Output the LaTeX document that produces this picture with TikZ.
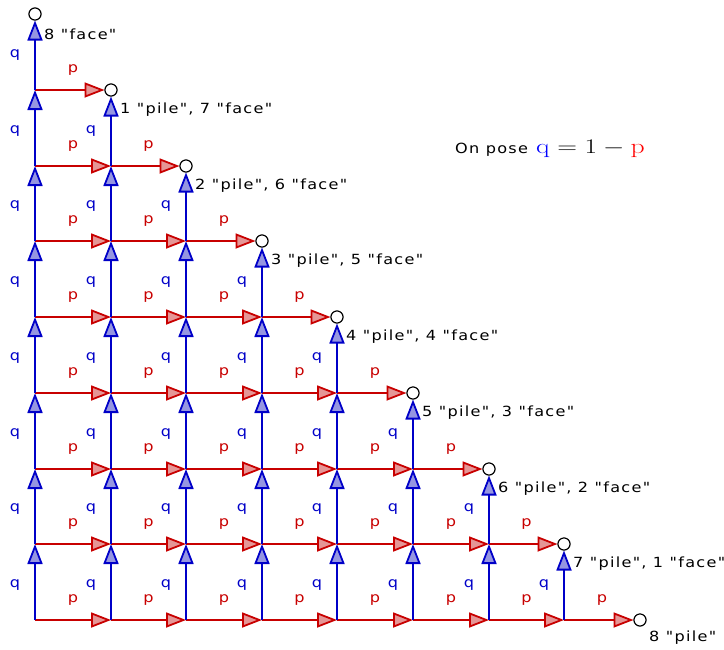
\documentclass[tikz,border=0pt]{standalone}
\usepackage{fontspec}
\usetikzlibrary{arrows.meta,calc}
\newfontfamily\lblfont[LetterSpace=8]{DejaVu Sans}
\newfontfamily\pqfont{DejaVu Sans}
\newcommand\stretchtxt[1]{\scalebox{1.15}[1]{#1}}
\definecolor{rline}{RGB}{200,0,0}
\definecolor{rfill}{RGB}{229,150,150}
\definecolor{bline}{RGB}{0,0,200}
\definecolor{bfill}{RGB}{150,150,225}
\begin{document}
\begin{tikzpicture}[x=1pt,y=-1pt,
  hedge/.style={draw=rline,line width=1.8pt,-{Triangle[length=20pt,width=15pt,fill=rfill]}},
  vedge/.style={draw=bline,line width=1.8pt,-{Triangle[length=20pt,width=15pt,fill=bfill]}},
  term/.style={circle,draw=black,fill=white,line width=1pt,minimum size=12pt,inner sep=0pt},
  plab/.style={text=rline,font=\fontsize{14}{16}\pqfont,inner sep=0pt},
  qlab/.style={text=bline,font=\fontsize{14}{16}\pqfont,inner sep=0pt},
  tlab/.style={text=black,font=\fontsize{14}{16}\lblfont,inner sep=0pt,anchor=west}
]
\useasboundingbox (0,0) rectangle (724,649);
% grid points
\foreach \i in {0,...,8}{
  \foreach \j in {0,...,8}{
    \pgfmathtruncatemacro\s{\i+\j}
    \pgfmathtruncatemacro\xx{round(35+\i*75.6)}
    \pgfmathtruncatemacro\yy{round(620-\j*75.75)}
    \ifnum\s<8
      \coordinate (g-\i-\j) at (\xx,\yy);
    \else\ifnum\s=8
      \node[term] (g-\i-\j) at (\xx,\yy) {};
    \fi\fi
  }
}
% edges
\foreach \i in {0,...,7}{
  \foreach \j in {0,...,7}{
    \pgfmathtruncatemacro\s{\i+\j}
    \pgfmathtruncatemacro\ip{\i+1}
    \pgfmathtruncatemacro\jp{\j+1}
    \ifnum\s<8
      \draw[hedge] (g-\i-\j) -- (g-\ip-\j);
      \draw[vedge] (g-\i-\j) -- (g-\i-\jp);
      \node[plab] (p-\i-\j) at ([yshift=20pt]$(g-\i-\j)!0.5!(g-\ip-\j.center)$) {\stretchtxt{p}};
      \node[qlab] (q-\i-\j) at ([xshift=-20pt,yshift=-3pt]$(g-\i-\j)!0.5!(g-\i-\jp.center)$) {\stretchtxt{q}};
    \fi
  }
}
% redraw terminal circles on top
\foreach \i in {0,...,8}{
  \pgfmathtruncatemacro\j{8-\i}
  \node[term] at (g-\i-\j.center) {};
}
% terminal labels
\node[tlab] (t0) at ([xshift=9pt,yshift=-20pt]g-0-8.center) {\stretchtxt{8 "face"}};
\node[tlab] (t1) at ([xshift=9pt,yshift=-20pt]g-1-7.center) {\stretchtxt{1 "pile", 7 "face"}};
\node[tlab] (t2) at ([xshift=9pt,yshift=-20pt]g-2-6.center) {\stretchtxt{2 "pile", 6 "face"}};
\node[tlab] (t3) at ([xshift=9pt,yshift=-20pt]g-3-5.center) {\stretchtxt{3 "pile", 5 "face"}};
\node[tlab] (t4) at ([xshift=9pt,yshift=-20pt]g-4-4.center) {\stretchtxt{4 "pile", 4 "face"}};
\node[tlab] (t5) at ([xshift=9pt,yshift=-20pt]g-5-3.center) {\stretchtxt{5 "pile", 3 "face"}};
\node[tlab] (t6) at ([xshift=9pt,yshift=-20pt]g-6-2.center) {\stretchtxt{6 "pile", 2 "face"}};
\node[tlab] (t7) at ([xshift=9pt,yshift=-20pt]g-7-1.center) {\stretchtxt{7 "pile", 1 "face"}};
\node[tlab] (t8) at ([xshift=9pt,yshift=-18pt]g-8-0.center) {\stretchtxt{8 "pile"}};
% formula
\node[anchor=base west,inner sep=0pt,font=\fontsize{14}{16}\lblfont] (pose) at (455,153)
  {\stretchtxt{On pose}};
\node[anchor=base west,inner sep=0pt,font=\fontsize{21}{25}\selectfont] (eq) at (536,153)
  {\scalebox{1.32}[1]{$\color{blue}\mathrm{q}\color{black}=1-\color{red}\mathrm{p}$}};
\end{tikzpicture}
\end{document}
